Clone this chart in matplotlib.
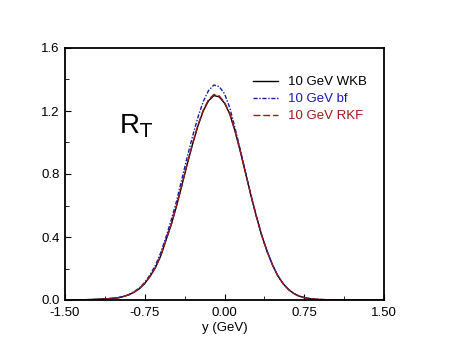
import matplotlib
matplotlib.use('Agg')
import matplotlib.pyplot as plt
from matplotlib.ticker import MultipleLocator

plt.rcParams['font.family'] = ['Liberation Sans', 'DejaVu Sans']

y_gev = [-1.50, -1.40, -1.30, -1.20, -1.10, -1.05, -1.00, -0.95, -0.90, -0.85,
         -0.80, -0.75, -0.70, -0.65, -0.60, -0.55, -0.50, -0.45, -0.40, -0.35,
         -0.30, -0.25, -0.20, -0.15, -0.10, -0.05, 0.00, 0.05, 0.10, 0.15,
         0.20, 0.25, 0.30, 0.35, 0.40, 0.45, 0.50, 0.55, 0.60, 0.65,
         0.70, 0.75, 0.80, 0.85, 0.90, 1.00, 1.10, 1.20, 1.30, 1.40, 1.50]

rt_wkb = [0.000, 0.001, 0.002, 0.004, 0.008, 0.011, 0.014, 0.022, 0.033, 0.050,
          0.072, 0.105, 0.150, 0.205, 0.280, 0.380, 0.480, 0.600, 0.730, 0.865,
          0.990, 1.105, 1.200, 1.265, 1.298, 1.290, 1.250, 1.180, 1.070, 0.940,
          0.800, 0.660, 0.530, 0.410, 0.310, 0.225, 0.155, 0.105, 0.068, 0.042,
          0.025, 0.015, 0.009, 0.005, 0.003, 0.001, 0.000, 0.000, 0.000, 0.000, 0.000]

rt_bf = [0.000, 0.001, 0.002, 0.004, 0.008, 0.011, 0.015, 0.023, 0.035, 0.053,
         0.077, 0.112, 0.160, 0.220, 0.300, 0.400, 0.510, 0.630, 0.770, 0.910,
         1.040, 1.160, 1.260, 1.330, 1.365, 1.355, 1.310, 1.220, 1.090, 0.950,
         0.805, 0.662, 0.530, 0.410, 0.310, 0.225, 0.155, 0.105, 0.068, 0.042,
         0.025, 0.015, 0.009, 0.005, 0.003, 0.001, 0.000, 0.000, 0.000, 0.000, 0.000]

rt_rkf = [0.000, 0.001, 0.002, 0.004, 0.008, 0.011, 0.014, 0.022, 0.033, 0.050,
          0.072, 0.105, 0.150, 0.206, 0.281, 0.381, 0.482, 0.602, 0.733, 0.868,
          0.994, 1.110, 1.205, 1.272, 1.305, 1.296, 1.255, 1.183, 1.072, 0.942,
          0.801, 0.661, 0.531, 0.410, 0.310, 0.225, 0.155, 0.105, 0.068, 0.042,
          0.025, 0.015, 0.009, 0.005, 0.003, 0.001, 0.000, 0.000, 0.000, 0.000, 0.000]

fig = plt.figure(figsize=(4.49, 3.46), dpi=100)
ax = fig.add_axes([65/449, 46/346, 319/449, 252/346])

ax.plot(y_gev, rt_wkb, color='black', lw=1.0, label='10 GeV WKB')
ax.plot(y_gev, rt_bf, color='#1a1aa6', lw=1.0, ls=(0, (3, 1.2, 1, 1.2)), label='10 GeV bf')
ax.plot(y_gev, rt_rkf, color='#a01818', lw=1.0, ls=(0, (5, 2)), label='10 GeV RKF')

ax.set_xlim(-1.5, 1.5)
ax.set_ylim(0, 1.6)
ax.set_xticks([-1.5, -0.75, 0, 0.75, 1.5])
ax.set_xticklabels(['-1.50', '-0.75', '0.00', '0.75', '1.50'])
ax.set_yticks([0, 0.4, 0.8, 1.2, 1.6])
ax.set_yticklabels(['0.0', '0.4', '0.8', '1.2', '1.6'])
ax.xaxis.set_minor_locator(MultipleLocator(0.375))
ax.yaxis.set_minor_locator(MultipleLocator(0.2))
ax.tick_params(which='both', direction='in', top=False, right=False, labelsize=9.5)
ax.tick_params(axis='x', pad=5)
ax.tick_params(axis='y', pad=4)
ax.tick_params(which='major', length=4)
ax.tick_params(which='minor', length=3)
for s in ax.spines.values():
    s.set_linewidth(1.3)

ax.set_xlabel('y (GeV)', fontsize=9.5, labelpad=2.5)
ax.text(-0.99, 1.06, r'R$_\mathrm{T}$', fontsize=20)

leg = ax.legend(loc='upper right', bbox_to_anchor=(0.985, 0.935), frameon=False,
                fontsize=9.5, handlelength=1.9, handletextpad=0.8, labelspacing=0.35)
for t, c in zip(leg.get_texts(), ['black', '#1a1aa6', '#a01818']):
    t.set_color(c)

fig.savefig('out.png', dpi=100)
